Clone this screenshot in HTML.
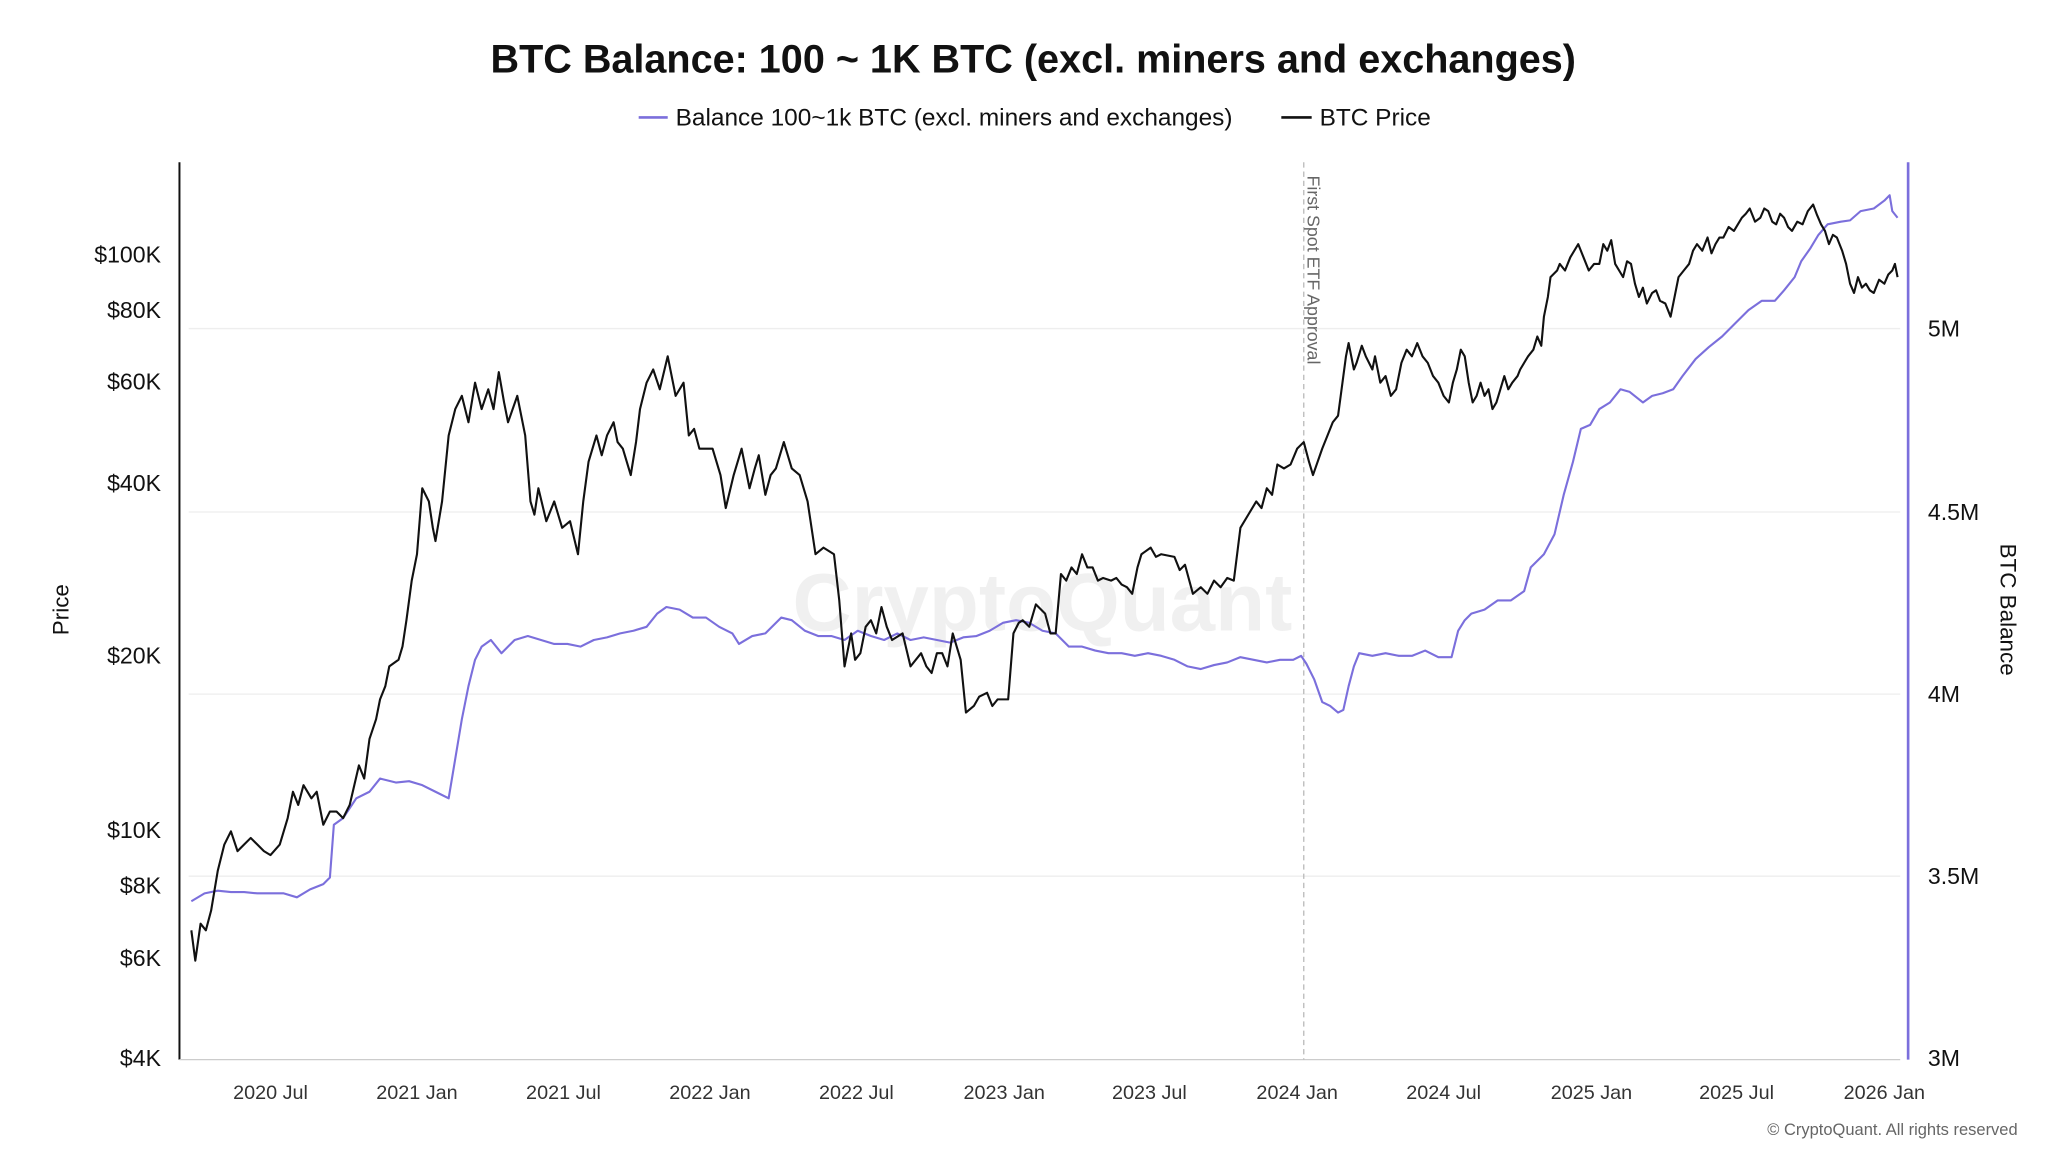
<!DOCTYPE html>
<html><head><meta charset="utf-8"><style>
html,body{margin:0;padding:0;background:#fff;width:2048px;height:1152px;overflow:hidden}
svg{display:block}
text{font-family:"Liberation Sans",Arial,sans-serif}
</style></head><body>
<svg width="2048" height="1152" viewBox="0 0 1552 873" preserveAspectRatio="none" xmlns="http://www.w3.org/2000/svg">
<rect width="1552" height="873" fill="#fff"/>
<text x="783" y="55" text-anchor="middle" font-size="30" font-weight="bold" fill="#111">BTC Balance: 100 ~ 1K BTC (excl. miners and exchanges)</text>
<line x1="484" y1="89" x2="506" y2="89" stroke="#7b6fdc" stroke-width="2"/>
<text x="512" y="95" font-size="18.5" fill="#111">Balance 100~1k BTC (excl. miners and exchanges)</text>
<line x1="971" y1="89" x2="994" y2="89" stroke="#111" stroke-width="2"/>
<text x="1000" y="95" font-size="18.5" fill="#111">BTC Price</text>
<g stroke="#eee" stroke-width="1">
<line x1="143" y1="249" x2="1440" y2="249"/><line x1="143" y1="388" x2="1440" y2="388"/>
<line x1="143" y1="526" x2="1440" y2="526"/><line x1="143" y1="664" x2="1440" y2="664"/>
</g>
<text x="790" y="478" text-anchor="middle" font-size="62" fill="#000" fill-opacity="0.06" font-weight="bold">CryptoQuant</text>
<line x1="136" y1="123" x2="136" y2="803" stroke="#111" stroke-width="1.5"/>
<line x1="136" y1="803" x2="1440" y2="803" stroke="#ccc" stroke-width="1"/>
<line x1="1446" y1="123" x2="1446" y2="803" stroke="#7b6fdc" stroke-width="2"/>
<g font-size="17.5" fill="#111" text-anchor="end">
<text x="122" y="199">$100K</text><text x="122" y="241">$80K</text><text x="122" y="295">$60K</text>
<text x="122" y="372">$40K</text><text x="122" y="503">$20K</text><text x="122" y="635">$10K</text>
<text x="122" y="677">$8K</text><text x="122" y="732">$6K</text><text x="122" y="808">$4K</text>
</g>
<g font-size="17.5" fill="#111">
<text x="1461" y="255">5M</text><text x="1461" y="394">4.5M</text><text x="1461" y="532">4M</text>
<text x="1461" y="670">3.5M</text><text x="1461" y="808">3M</text>
</g>
<g font-size="15" fill="#333" text-anchor="middle">
<text x="205" y="833">2020 Jul</text><text x="316" y="833">2021 Jan</text><text x="427" y="833">2021 Jul</text>
<text x="538" y="833">2022 Jan</text><text x="649" y="833">2022 Jul</text><text x="761" y="833">2023 Jan</text>
<text x="871" y="833">2023 Jul</text><text x="983" y="833">2024 Jan</text><text x="1094" y="833">2024 Jul</text>
<text x="1206" y="833">2025 Jan</text><text x="1316" y="833">2025 Jul</text><text x="1428" y="833">2026 Jan</text>
</g>
<text transform="translate(52,462) rotate(-90)" text-anchor="middle" font-size="17" fill="#111">Price</text>
<text transform="translate(1516,462) rotate(90)" text-anchor="middle" font-size="17" fill="#111">BTC Balance</text>
<text x="1529" y="860" text-anchor="end" font-size="12.5" fill="#666">© CryptoQuant. All rights reserved</text>
<line x1="988" y1="123" x2="988" y2="803" stroke="#bbb" stroke-width="1" stroke-dasharray="4,3"/>
<text transform="translate(991,133) rotate(90)" font-size="13.5" fill="#666">First Spot ETF Approval</text>
<polyline fill="none" stroke="#7b6fdc" stroke-width="1.6" stroke-linejoin="round" points="145,683 155,677 165,675 175,676 185,676 195,677 205,677 215,677 225,680 235,674 245,670 250,665 253,625 260,620 270,605 280,600 288,590 300,593 310,592 320,595 330,600 340,605 345,575 350,545 355,520 360,500 365,490 372,485 380,495 390,485 400,482 410,485 420,488 430,488 440,490 450,485 460,483 470,480 480,478 490,475 498,465 505,460 515,462 525,468 535,468 545,475 555,480 560,488 570,482 580,480 592,468 600,470 610,478 620,482 630,482 640,485 650,478 660,482 670,485 680,480 690,485 700,483 710,485 720,487 730,483 740,482 750,478 760,472 770,470 780,472 790,478 800,480 810,490 820,490 830,493 840,495 850,495 860,497 870,495 880,497 890,500 900,505 910,507 920,504 930,502 940,498 950,500 960,502 970,500 980,500 986,497 990,503 996,515 1002,532 1008,535 1014,540 1018,538 1022,520 1026,505 1030,495 1040,497 1050,495 1060,497 1070,497 1080,493 1090,498 1100,498 1105,478 1110,470 1115,465 1125,462 1135,455 1145,455 1155,448 1160,430 1170,420 1178,405 1185,375 1192,350 1198,325 1205,322 1212,310 1220,305 1228,295 1235,297 1245,305 1252,300 1260,298 1268,295 1275,285 1285,272 1295,263 1305,255 1315,245 1325,235 1335,228 1345,228 1352,220 1360,210 1365,198 1372,188 1378,178 1385,170 1395,168 1402,167 1410,160 1420,158 1428,152 1432,148 1434,160 1438,165"/>
<polyline fill="none" stroke="#111" stroke-width="1.6" stroke-linejoin="round" points="145,705 148,728 152,700 156,705 160,690 165,660 170,640 175,630 180,645 185,640 190,635 195,640 200,645 205,648 212,640 218,620 222,600 226,610 230,595 236,605 240,600 245,625 250,615 255,615 260,620 265,610 272,580 276,590 280,560 285,545 288,530 292,520 295,505 302,500 305,490 308,470 312,440 316,420 320,370 325,380 328,400 330,410 335,380 340,330 345,310 350,300 355,320 360,290 365,310 370,295 374,310 378,282 382,305 385,320 392,300 398,330 402,380 405,390 408,370 414,395 420,380 426,400 432,395 438,420 442,380 446,350 452,330 456,345 460,330 465,320 468,335 472,340 478,360 482,335 485,310 490,290 495,280 500,295 506,270 512,300 518,290 522,330 526,325 530,340 540,340 546,360 550,385 556,360 562,340 568,370 572,355 575,345 580,375 584,360 588,355 594,335 600,355 606,360 612,380 618,420 624,415 632,420 636,455 640,505 645,480 648,500 652,495 656,475 660,470 664,480 668,460 672,475 676,485 684,480 690,505 698,495 702,505 706,510 710,495 714,495 718,505 722,480 728,500 732,540 738,535 742,528 748,525 752,535 756,530 764,530 768,480 772,472 775,470 780,475 785,458 792,465 796,480 800,480 804,435 808,440 812,430 816,435 820,420 824,430 828,430 832,440 836,438 842,440 846,438 850,443 854,445 858,450 862,430 865,420 872,415 876,422 880,420 890,422 894,432 898,428 904,450 910,445 915,450 920,440 925,445 930,438 935,440 940,400 946,390 952,380 956,385 960,370 964,375 968,352 973,355 978,352 983,340 988,335 992,350 995,360 1002,340 1006,330 1010,320 1014,315 1016,300 1020,270 1022,260 1026,280 1028,275 1032,262 1035,270 1040,280 1042,270 1046,290 1050,285 1054,300 1058,295 1062,275 1066,265 1070,270 1074,260 1078,270 1082,275 1086,285 1090,290 1094,300 1098,305 1101,290 1104,280 1107,265 1110,270 1113,290 1116,305 1119,300 1122,290 1125,300 1128,295 1131,310 1134,305 1137,295 1140,285 1143,295 1146,290 1150,285 1152,280 1155,275 1158,270 1162,265 1165,255 1168,262 1170,240 1173,225 1175,210 1180,205 1182,200 1186,205 1190,195 1196,185 1200,195 1204,205 1208,200 1212,200 1215,185 1218,190 1221,182 1224,200 1227,205 1230,210 1233,198 1236,200 1239,215 1242,225 1245,218 1248,230 1252,222 1255,220 1258,228 1262,230 1266,240 1269,225 1272,210 1276,205 1280,200 1283,190 1286,185 1290,190 1294,180 1297,192 1300,185 1303,180 1306,180 1310,172 1314,175 1317,170 1320,165 1323,162 1326,158 1330,168 1334,165 1337,158 1340,160 1343,168 1346,170 1349,162 1352,165 1355,172 1358,175 1362,168 1366,170 1370,160 1374,155 1377,163 1380,170 1383,175 1386,185 1389,178 1392,180 1396,190 1399,200 1402,215 1405,222 1408,210 1411,218 1414,215 1417,220 1420,222 1424,212 1428,215 1431,208 1434,205 1436,200 1438,210"/>
</svg>
</body></html>
